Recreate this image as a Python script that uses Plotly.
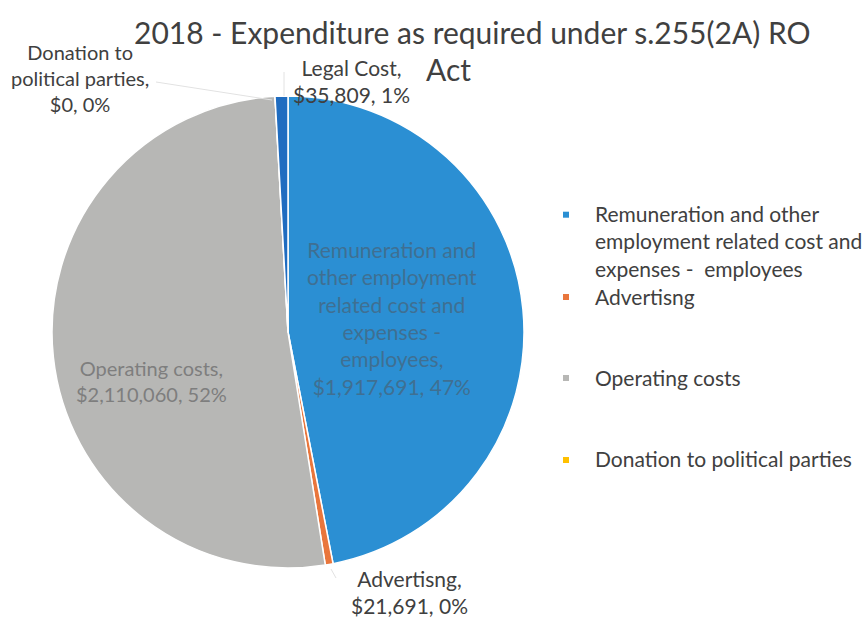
import plotly.graph_objects as go

# Expenditure categories, amounts and the percentage shown on each label
categories = [
    "Remuneration and other employment related cost and expenses -  employees",
    "Advertisng",
    "Operating costs",
    "Donation to political parties",
    "Legal Cost",
]
amounts = [1917691, 21691, 2110060, 0, 35809]
pct_labels = ["47%", "0%", "52%", "0%", "1%"]
colors = ["#2B8FD3", "#E9763C", "#B7B7B5", "#FFC000", "#1F6CC0"]

# categories shown in the legend (Legal Cost has no legend entry)
legend_items = [0, 1, 2, 3]

# line-broken versions of the category names for the slice labels
label_lines = {
    0: ["Remuneration and", "other employment", "related cost and", "expenses -", "employees,"],
    1: ["Advertisng,"],
    2: ["Operating costs,"],
    3: ["Donation to", "political parties,"],
    4: ["Legal Cost,"],
}

W, H = 866, 622
FONT = "Lato"


def px(x):
    return x / W


def py(y):
    return 1 - y / H


fig = go.Figure(
    go.Pie(
        labels=categories,
        values=amounts,
        sort=False,
        direction="clockwise",
        rotation=0,
        marker=dict(colors=colors, line=dict(color="white", width=1.5)),
        textinfo="none",
        hoverinfo="label+value+percent",
        showlegend=False,
        domain=dict(x=[px(52), px(524)], y=[py(568), py(96)]),
    )
)


def slice_text(i):
    return "<br>".join(label_lines[i] + [f"${amounts[i]:,}, {pct_labels[i]}"])


annotations = []

# title (wraps onto a second line)
annotations.append(dict(x=px(472), y=py(32), text="2018 - Expenditure as required under s.255(2A) RO",
                        font=dict(family=FONT, size=30, color="#404040")))
annotations.append(dict(x=px(449), y=py(69), text="Act",
                        font=dict(family=FONT, size=30, color="#404040")))

# slice labels: (index, centre x, centre y, colour, size)
label_pos = [
    (0, 392, 318, "#3F6F92", 21),
    (2, 151, 381, "#7E7E7E", 20),
    (3, 80, 78, "#404040", 20),
    (4, 351, 81, "#404040", 21),
    (1, 409, 592, "#404040", 21),
]
for i, cx, cy, col, size in label_pos:
    annotations.append(dict(x=px(cx), y=py(cy), text=slice_text(i),
                            font=dict(family=FONT, size=size, color=col)))

# legend entries: text-centre y of each block
legend_pos = {0: 241, 1: 296, 2: 377, 3: 459}
legend_text = {
    0: "Remuneration and other<br>employment related cost and<br>expenses -  employees",
    1: categories[1],
    2: categories[2],
    3: categories[3],
}
LEG_SIZE = 21
shapes = []
for i in legend_items:
    ty = legend_pos[i]
    n_lines = legend_text[i].count("<br>") + 1
    first_line_y = ty - (n_lines - 1) * LEG_SIZE * 1.3 / 2
    annotations.append(dict(x=px(593), y=py(ty), text=legend_text[i], xanchor="left", align="left",
                            font=dict(family=FONT, size=LEG_SIZE, color="#404040")))
    shapes.append(dict(type="rect", xref="paper", yref="paper",
                       x0=px(563), x1=px(569), y0=py(first_line_y + 4), y1=py(first_line_y - 2),
                       fillcolor=colors[i], line=dict(width=0)))

# leader lines for the small slices
leaders = [
    ((156, 82), (272, 100)),
    ((284, 72), (284, 96)),
    ((331, 569), (336, 578)),
]
for (x0, y0), (x1, y1) in leaders:
    shapes.append(dict(type="line", xref="paper", yref="paper",
                       x0=px(x0), y0=py(y0), x1=px(x1), y1=py(y1),
                       line=dict(color="#E2E2E2", width=1)))

for a in annotations:
    a.update(xref="paper", yref="paper", showarrow=False)
    a.setdefault("xanchor", "center")
    a.setdefault("yanchor", "middle")

fig.update_layout(
    width=W,
    height=H,
    margin=dict(l=0, r=0, t=0, b=0),
    paper_bgcolor="white",
    plot_bgcolor="white",
    annotations=annotations,
    shapes=shapes,
)

fig.write_html("out.html")
